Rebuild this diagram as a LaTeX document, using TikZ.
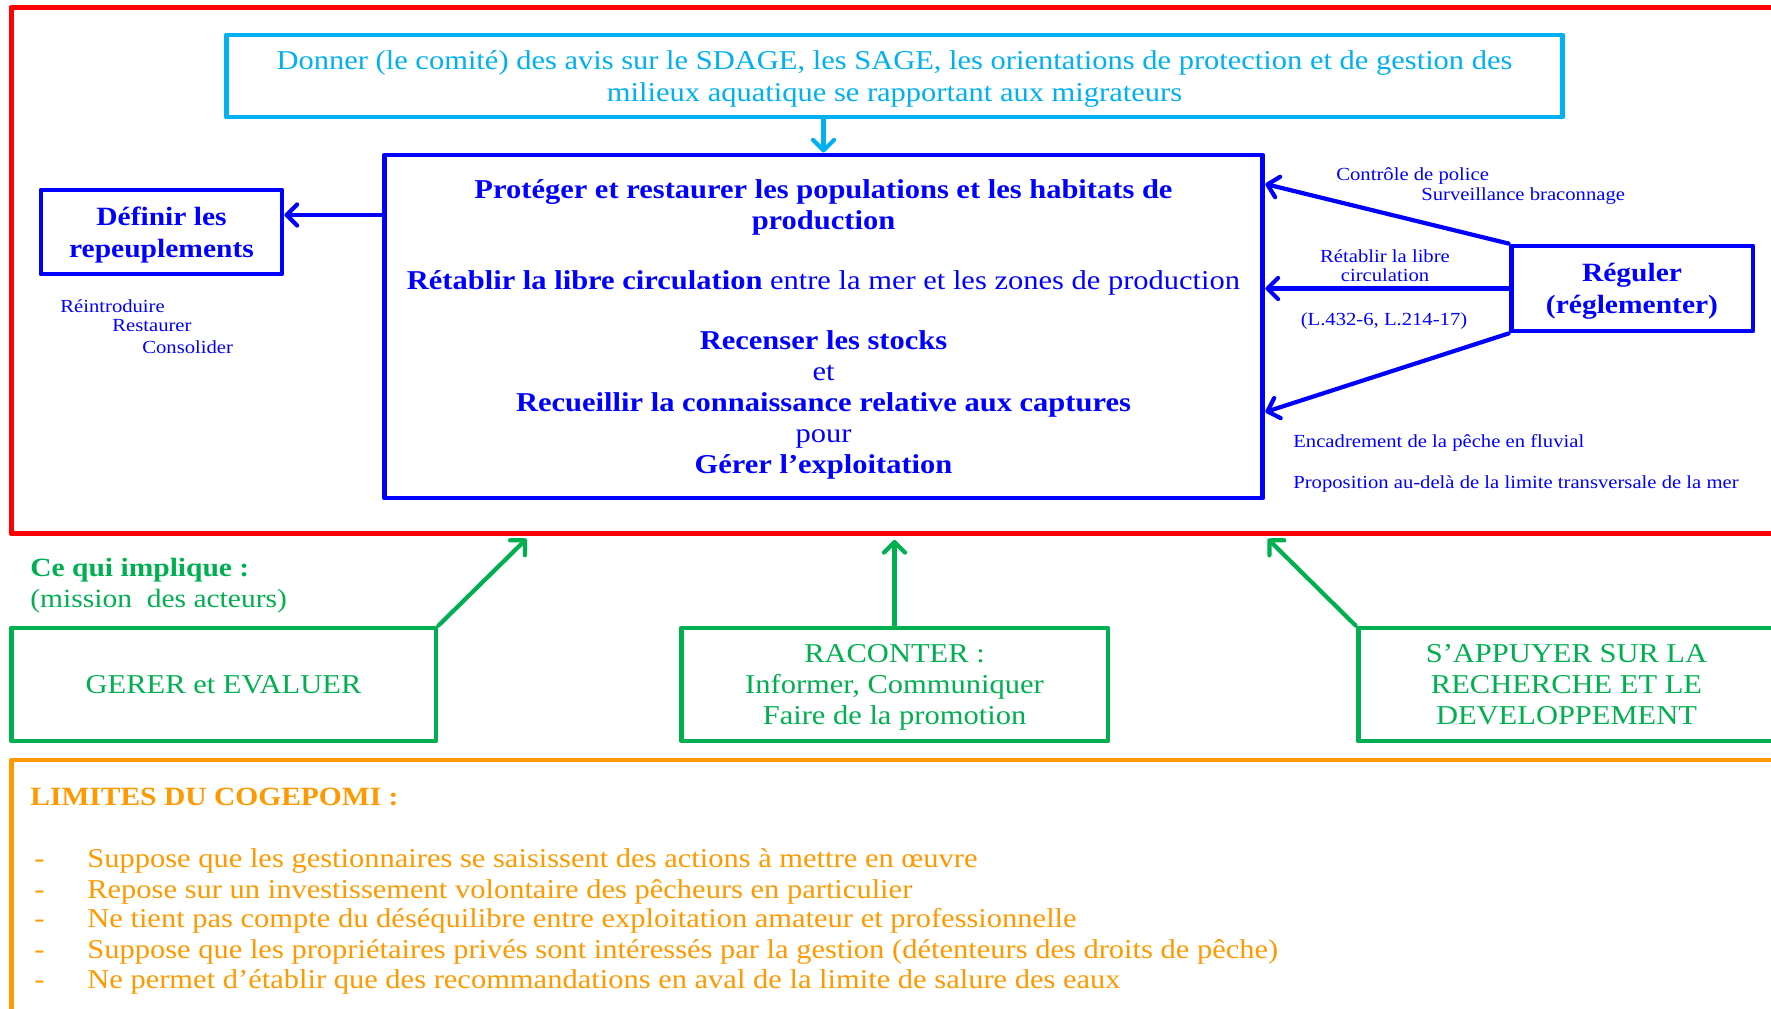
\documentclass[tikz,border=0pt]{standalone}
\usepackage{fontspec}
\setmainfont{Liberation Serif}[FakeStretch=1.12]
\usetikzlibrary{arrows.meta}

\definecolor{rouge}{RGB}{255,0,0}
\definecolor{ciel}{RGB}{0,176,240}
\definecolor{bleu}{RGB}{0,0,255}
\definecolor{vert}{RGB}{0,176,80}
\definecolor{limite}{RGB}{255,153,0}
\newcommand{\taille}[2]{\fontsize{#1}{#2}\selectfont}

\begin{document}
\begin{tikzpicture}[x=0.02cm, y=-0.02cm, line cap=round, line join=round,
    every node/.style={inner sep=0pt, align=center, font=\taille{15.5}{17.6}},
    boite/.style={draw, line width=2.8pt, rectangle, text depth=0pt},
    petit/.style={text=bleu, font=\taille{10.5}{11.5}},
    fleche/.style={line width=2.4pt, -{Straight Barb[length=6pt, width=12pt, round]}}]
    \useasboundingbox (0,0) rectangle (1771,1008);

    \node[boite, draw=rouge, minimum width=35.78cm, minimum height=10.54cm] (zone) at (905.5,270.5) {};
    \node[boite, draw=ciel, text=ciel, minimum width=26.74cm, minimum height=1.64cm, font=\taille{15.5}{18}] (avis) at (894.5,76)
        {Donner (le comité) des avis sur le SDAGE, les SAGE, les orientations de protection et de gestion des\\
         milieux aquatique se rapportant aux migrateurs};
    \node[boite, draw=bleu, text=bleu, minimum width=17.58cm, minimum height=6.86cm] (objectifs) at (823.5,326.5)
        {\textbf{Protéger et restaurer les populations et les habitats de}\\
         \textbf{production}\\[16.5pt]
         \textbf{Rétablir la libre circulation} entre la mer et les zones de production\\[16.5pt]
         \textbf{Recenser les stocks}\\
         et\\
         \textbf{Recueillir la connaissance relative aux captures}\\
         pour\\
         \textbf{Gérer l’exploitation}};
    \node[boite, draw=bleu, text=bleu, minimum width=4.82cm, minimum height=1.68cm, font=\bfseries\taille{15}{18}] (repeupl) at (161.5,232)
        {Définir les\\ repeuplements};
    \node[boite, draw=bleu, text=bleu, minimum width=4.84cm, minimum height=1.70cm, font=\bfseries\taille{15}{18}] (reguler) at (1632,288.5)
        {Réguler\\ (réglementer)};

    \draw[fleche, ciel] (avis.south -| objectifs.north) -- (objectifs.north);
    \draw[fleche, bleu] (objectifs.west |- 0,215) -- (repeupl.east |- 0,215);
    \draw[fleche, bleu] (reguler.north west) -- (objectifs.east |- 0,184);
    \draw[fleche, bleu] (reguler.west) -- (objectifs.east |- reguler.west);
    \draw[fleche, bleu] (reguler.south west) -- (objectifs.east |- 0,412);

    \foreach \mot/\x/\y [count=\i] in {Réintroduire/60/306, Restaurer/112/326, Consolider/142/347}
        \node[petit, anchor=west] (action\i) at (\x,\y) {\mot};

    \node[petit, anchor=west] (police) at (1336,176) {Contrôle de police};
    \node[petit, anchor=west] (surveil) at (1421,196) {Surveillance braconnage};
    \node[petit, font=\taille{10.5}{11}] (libre) at (1385,266) {Rétablir la libre\\ circulation};
    \node[petit] (articles) at (1384,321) {(L.432-6, L.214-17)};
    \node[petit, anchor=west] (encadr) at (1293,443) {Encadrement de la pêche en fluvial};
    \node[petit, anchor=west] (propos) at (1293,484) {Proposition au-delà de la limite transversale de la mer};

    \node[anchor=west, text=vert, font=\bfseries\taille{15}{18}] (implique) at (30,570) {Ce qui implique :};
    \node[anchor=west, text=vert, font=\taille{15}{18}] (mission) at (30,601) {(mission\ \ des acteurs)};

    \node[boite, draw=vert, text=vert, minimum width=8.5cm, minimum height=2.26cm, font=\taille{15.5}{17.8}] (gerer) at (223.5,684.5)
        {GERER et EVALUER};
    \node[boite, draw=vert, text=vert, minimum width=8.54cm, minimum height=2.26cm, font=\taille{15.5}{17.8}] (raconter) at (894.5,684.5)
        {RACONTER :\\ Informer, Communiquer\\ Faire de la promotion};
    \node[boite, draw=vert, text=vert, minimum width=8.34cm, minimum height=2.26cm, font=\taille{15.5}{17.8}] (appuyer) at (1566.5,684.5)
        {S’APPUYER SUR LA\\ RECHERCHE ET LE\\ DEVELOPPEMENT};

    \draw[fleche, vert, shorten >=2pt] (gerer.north east) -- (zone.south -| 529,0);
    \draw[fleche, vert, shorten >=2pt] (raconter.north) -- (zone.south -| raconter.north);
    \draw[fleche, vert, shorten >=2pt] (appuyer.north west) -- (zone.south -| objectifs.east);

    \node[boite, draw=limite, minimum width=35.78cm, minimum height=5.2cm] (limites) at (905.5,890) {};
    \node[anchor=west, text=limite, font=\bfseries\taille{15}{18}] (titre) at (30,797) {LIMITES DU COGEPOMI :};
    \foreach \y/\phrase [count=\i] in {
        867/Suppose que les gestionnaires se saisissent des actions à mettre en œuvre,
        898/Repose sur un investissement volontaire des pêcheurs en particulier,
        927/Ne tient pas compte du déséquilibre entre exploitation amateur et professionnelle,
        958/Suppose que les propriétaires privés sont intéressés par la gestion (détenteurs des droits de pêche),
        988/Ne permet d’établir que des recommandations en aval de la limite de salure des eaux} {
        \node[anchor=base west, text=limite] (tiret\i) at (34,\y) {-};
        \node[anchor=base west, text=limite] (limite\i) at (87,\y) {\phrase};
    }
\end{tikzpicture}
\end{document}
